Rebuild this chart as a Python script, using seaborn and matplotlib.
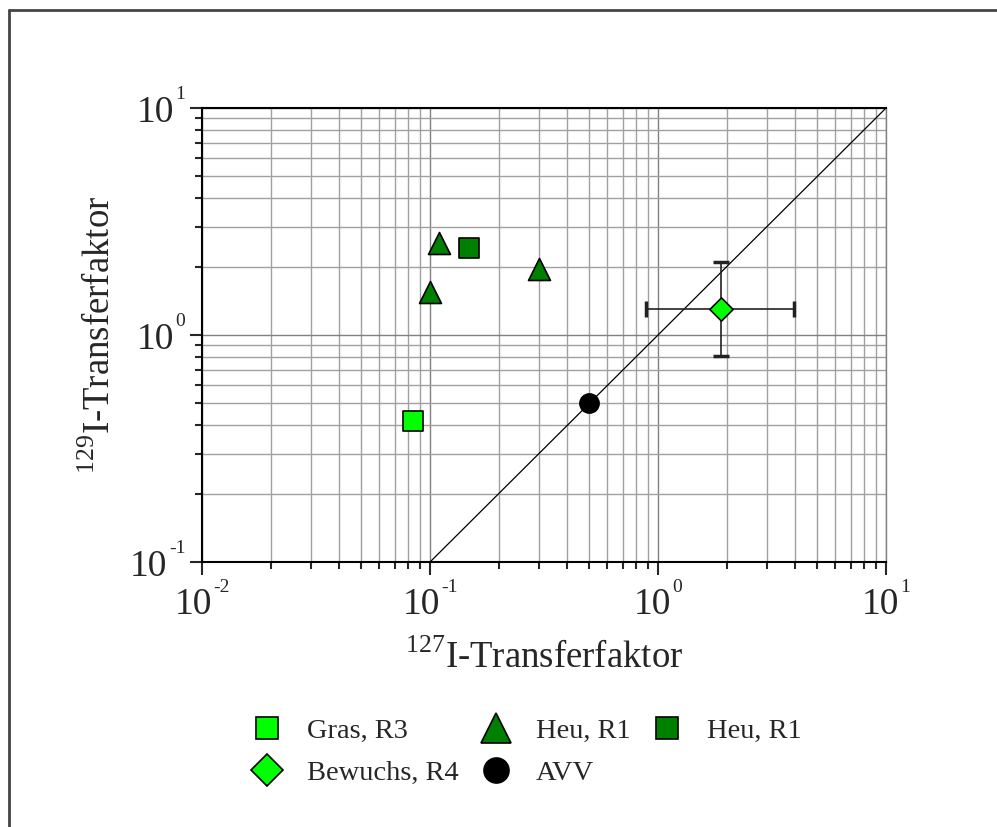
import numpy as np
import pandas as pd
import seaborn as sns
import matplotlib.pyplot as plt
from matplotlib.lines import Line2D
from matplotlib.offsetbox import TextArea, HPacker, VPacker, DrawingArea, AnnotationBbox

# data
gras_x = [0.084]
gras_y = [0.42]
heu_tri_x = [0.1, 0.11, 0.3]
heu_tri_y = [1.55, 2.55, 1.96]
heu_sq_x = [0.149]
heu_sq_y = [2.41]
bewuchs_x = [1.88]
bewuchs_y = [1.30]
bewuchs_xerr_lo = [0.89]
bewuchs_xerr_hi = [3.95]
bewuchs_yerr_lo = [0.81]
bewuchs_yerr_hi = [2.09]
avv_x = [0.5]
avv_y = [0.5]
diag = [0.1, 10]

x_ticks = [0.01, 0.1, 1, 10]
x_exps = ['-2', '-1', '0', '1']
y_ticks = [0.1, 1, 10]
y_exps = ['-1', '0', '1']

sns.set_style('white')
plt.rcParams['font.family'] = ['Liberation Serif', 'DejaVu Serif']
plt.rcParams['mathtext.fontset'] = 'custom'
plt.rcParams['mathtext.rm'] = 'Liberation Serif'

fig = plt.figure(figsize=(9.97, 8.27), dpi=100)
ax = fig.add_axes([0.2026, 0.3204, 0.6861, 0.549])

light = '#00FF00'
dark = '#008000'

# frame around figure (top and left visible)
fig.add_artist(Line2D([0.009, 1.0], [1 - 10 / 827, 1 - 10 / 827], color='#444444', lw=2, transform=fig.transFigure))
fig.add_artist(Line2D([0.009, 0.009], [0, 1 - 10 / 827], color='#444444', lw=2, transform=fig.transFigure))

ax.plot(diag, diag, color='black', lw=0.9, zorder=2)

ax.errorbar(bewuchs_x, bewuchs_y,
            xerr=[np.array(bewuchs_x) - np.array(bewuchs_xerr_lo), np.array(bewuchs_xerr_hi) - np.array(bewuchs_x)],
            yerr=[np.array(bewuchs_y) - np.array(bewuchs_yerr_lo), np.array(bewuchs_yerr_hi) - np.array(bewuchs_y)],
            fmt='none', ecolor='#222222', elinewidth=1.2, capsize=6, capthick=2.5, zorder=3)

kw = dict(ax=ax, edgecolor='black', linewidth=1.2, zorder=4, legend=False)
sns.scatterplot(x=gras_x, y=gras_y, marker='s', color=light, s=200, **kw)
sns.scatterplot(x=heu_tri_x, y=heu_tri_y, marker='^', color=dark, s=250, **kw)
sns.scatterplot(x=heu_sq_x, y=heu_sq_y, marker='s', color=dark, s=200, **kw)
sns.scatterplot(x=bewuchs_x, y=bewuchs_y, marker='D', color=light, s=140, **kw)
sns.scatterplot(x=avv_x, y=avv_y, marker='o', color='black', s=190, **kw)

ax.set_xscale('log')
ax.set_yscale('log')
ax.set_xlim(0.01, 10)
ax.set_ylim(0.1, 10)

ax.grid(True, which='major', color='#808080', lw=1)
ax.grid(True, which='minor', color='#a0a0a0', lw=1)
ax.set_axisbelow(True)

for s in ['left', 'bottom', 'top']:
    ax.spines[s].set_color('black')
    ax.spines[s].set_linewidth(1.5)
ax.spines['right'].set_color('#808080')
ax.spines['right'].set_linewidth(1)

ax.set_xticks(x_ticks)
ax.set_yticks(y_ticks)
ax.tick_params(which='major', direction='out', length=9, width=1.5, left=True, bottom=True,
               labelbottom=False, labelleft=False)
ax.tick_params(which='minor', direction='out', length=5, width=1.5, left=True, bottom=True)
ax.xaxis.set_minor_formatter(plt.NullFormatter())
ax.yaxis.set_minor_formatter(plt.NullFormatter())


def power_label(exp):
    base = TextArea('10', textprops=dict(fontsize=27))
    sup = TextArea(exp, textprops=dict(fontsize=14))
    sup_box = VPacker(children=[sup, DrawingArea(1, 19)], pad=0, sep=0, align='left')
    return HPacker(children=[base, sup_box], align='bottom', pad=0, sep=1)


for t, e in zip(x_ticks, x_exps):
    ab = AnnotationBbox(power_label(e), (t, 0), xycoords=('data', 'axes fraction'),
                        xybox=(0, -12), boxcoords='offset points', box_alignment=(0.5, 1),
                        frameon=False, pad=0, annotation_clip=False)
    ax.add_artist(ab)
for t, e in zip(y_ticks, y_exps):
    ab = AnnotationBbox(power_label(e), (0, t), xycoords=('axes fraction', 'data'),
                        xybox=(-12, 0), boxcoords='offset points', box_alignment=(1, 0.5),
                        frameon=False, pad=0, annotation_clip=False)
    ax.add_artist(ab)

ax.set_xlabel(r'$^{127}$I-Transferfaktor', fontsize=26.5)
ax.set_ylabel(r'$^{129}$I-Transferfaktor', fontsize=26.5)
ax.xaxis.set_label_coords(0.5, -0.172)
ax.yaxis.set_label_coords(-0.123, 0.5)

handles = [
    Line2D([], [], ls='none', marker='s', ms=16.5, mfc=light, mec='black', mew=1.2),
    Line2D([], [], ls='none', marker='D', ms=16, mfc=light, mec='black', mew=1.2),
    Line2D([], [], ls='none', marker='^', ms=21, mfc=dark, mec='black', mew=1.2),
    Line2D([], [], ls='none', marker='o', ms=18, mfc='black', mec='black', mew=1.2),
    Line2D([], [], ls='none', marker='s', ms=16.5, mfc=dark, mec='black', mew=1.2),
]
labels = ['Gras, R3', 'Bewuchs, R4', 'Heu, R1', 'AVV', 'Heu, R1']
fig.legend(handles, labels, ncol=3, loc='center', bbox_to_anchor=(0.526, 0.0907),
           bbox_transform=fig.transFigure, frameon=False, fontsize=20.5,
           handlelength=1.4, handletextpad=0.7, columnspacing=0.6, labelspacing=0.55)

fig.savefig('out.png', dpi=100)
